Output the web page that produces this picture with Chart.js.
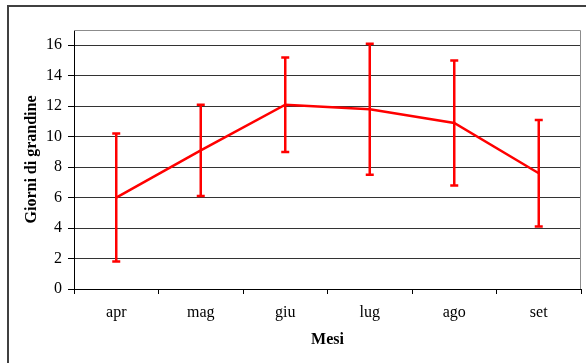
<!DOCTYPE html>
<html>
<head>
<meta charset="utf-8">
<script src="https://cdn.jsdelivr.net/npm/chart.js@4.4.0/dist/chart.umd.min.js"></script>
<style>
  html, body { margin: 0; padding: 0; background: #fff; overflow: hidden; }
  #wrap { position: relative; width: 586px; height: 363px; }
  #frame { position: absolute; left: 7px; top: 5px; width: 620px; height: 400px;
           border-left: 2px solid #404040; border-top: 2px solid #404040; box-sizing: border-box; }
  canvas { position: absolute; left: 0; top: 0; }
</style>
</head>
<body>
<div id="wrap">
  <div id="frame"></div>
  <canvas id="c" width="586" height="363"></canvas>
</div>
<script>
const months = ['apr', 'mag', 'giu', 'lug', 'ago', 'set'];
const meanDays = [6.0, 9.1, 12.1, 11.8, 10.9, 7.6];
const errLow = [1.8, 6.1, 9.0, 7.5, 6.8, 4.1];
const errHigh = [10.2, 12.1, 15.2, 16.1, 15.0, 11.1];
const yTickStep = 2;

const borderPlugin = {
  id: 'plotBorder',
  beforeDatasetsDraw(chart) {
    const { ctx, chartArea: a } = chart;
    ctx.save();
    ctx.strokeStyle = '#8c8c8c';
    ctx.lineWidth = 1;
    ctx.beginPath();
    ctx.moveTo(a.left, a.top + 0.5);
    ctx.lineTo(a.right - 0.5, a.top + 0.5);
    ctx.lineTo(a.right - 0.5, a.bottom);
    ctx.stroke();
    ctx.restore();
  }
};

const errorBarPlugin = {
  id: 'errorBars',
  afterDatasetsDraw(chart) {
    const { ctx, scales } = chart;
    const xs = scales.x, ys = scales.y;
    ctx.save();
    ctx.strokeStyle = '#ff0000';
    ctx.lineWidth = 2.5;
    const cap = 4;
    months.forEach((m, i) => {
      const x = xs.getPixelForValue(i);
      const yl = ys.getPixelForValue(errLow[i]);
      const yh = ys.getPixelForValue(errHigh[i]);
      ctx.beginPath();
      ctx.moveTo(x, yl); ctx.lineTo(x, yh);
      ctx.moveTo(x - cap, yl); ctx.lineTo(x + cap, yl);
      ctx.moveTo(x - cap, yh); ctx.lineTo(x + cap, yh);
      ctx.stroke();
    });
    ctx.restore();
  }
};

new Chart(document.getElementById('c'), {
  type: 'line',
  data: {
    labels: months,
    datasets: [{
      data: meanDays,
      borderColor: '#ff0000',
      borderWidth: 2.5,
      pointRadius: 0,
      fill: false,
      tension: 0
    }]
  },
  options: {
    responsive: false,
    animation: false,
    events: [],
    layout: { padding: { left: 22, right: 5, top: 30, bottom: 14 } },
    plugins: { legend: { display: false }, tooltip: { enabled: false } },
    scales: {
      x: {
        offset: true,
        grid: { offset: true, drawOnChartArea: false, drawTicks: true, tickLength: 5, tickColor: '#000', color: '#000' },
        border: { color: '#000', width: 1 },
        ticks: { color: '#000', padding: 9, font: { family: 'Liberation Serif', size: 16 }, maxRotation: 0 },
        title: { display: true, text: 'Mesi', color: '#000', padding: 0, font: { family: 'Liberation Serif', size: 16, weight: 'bold' } },
        afterFit(s) { s.height = 60; }
      },
      y: {
        min: 0, max: 17,
        ticks: { stepSize: yTickStep, includeBounds: false, color: '#000', padding: 6, font: { family: 'Liberation Serif', size: 16 } },
        grid: { color: '#333', tickColor: '#000', tickLength: 6, lineWidth: 1 },
        border: { color: '#000', width: 1 },
        title: { display: true, text: 'Giorni di grandine', color: '#000', padding: 0, font: { family: 'Liberation Serif', size: 16, weight: 'bold' } },
        afterFit(s) { s.width = 52; }
      }
    }
  },
  plugins: [borderPlugin, errorBarPlugin]
});
</script>
</body>
</html>
